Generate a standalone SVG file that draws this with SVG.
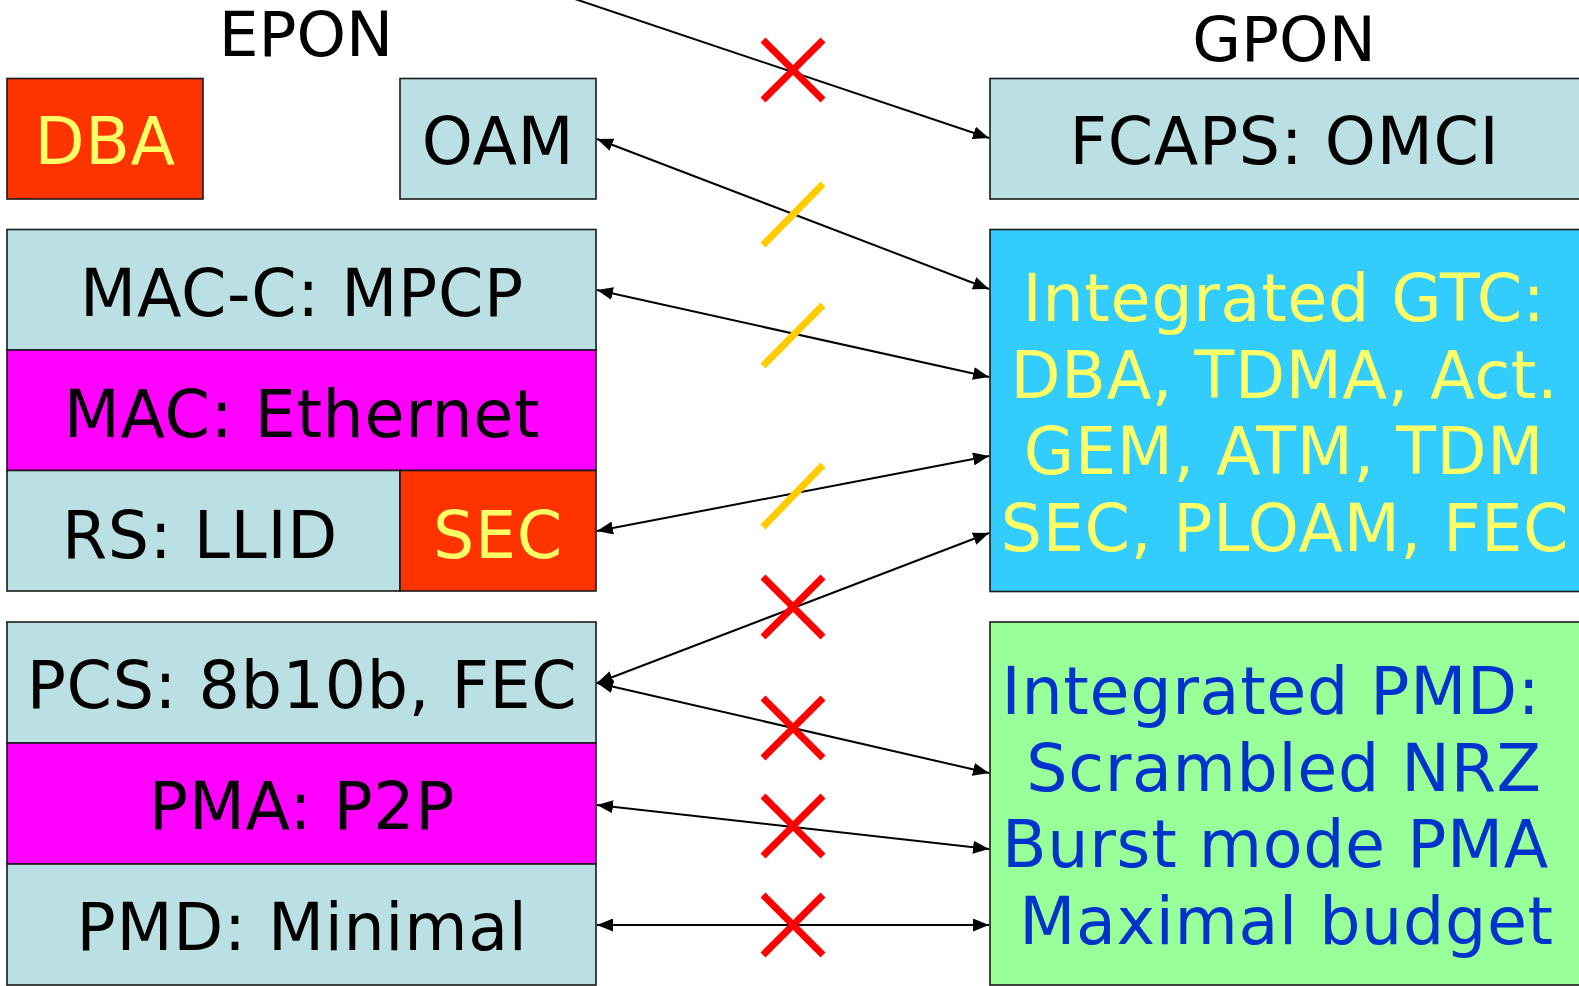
<svg xmlns="http://www.w3.org/2000/svg" width="1579" height="986" viewBox="0 0 1579 986">
<defs>
<style>
.box{stroke:#1a1a1a;stroke-width:1.6}
.lb{fill:#BBE0E3}
.or{fill:#FF3300}
.mg{fill:#FF00FF}
.cy{fill:#33CCFF}
.gr{fill:#99FF99}
text{font-family:"DejaVu Sans","Verdana",sans-serif;font-size:65px;letter-spacing:0.7px;text-anchor:middle}
.t{font-size:63px;letter-spacing:0}
.k{fill:#000}
.y{fill:#FFFF66}
.b{fill:#0033CC}
.con{stroke:#000;stroke-width:2;fill:none}
.arr1{marker-end:url(#ah)}
.arr2{marker-start:url(#ah);marker-end:url(#ah)}
.x{stroke:#FF0000;stroke-width:7;fill:none}
.s{stroke:#FFCC00;stroke-width:7;fill:none}
</style>
<marker id="ah" markerUnits="userSpaceOnUse" markerWidth="17" markerHeight="13" refX="16" refY="6.5" orient="auto-start-reverse">
<path d="M0,0 L16,6.5 L0,13 z" fill="#000"/>
</marker>
</defs>
<rect width="1579" height="986" fill="#fff"/>
<g id="titles">
<text class="k t" x="306" y="56">EPON</text>
<text class="k t" x="1284" y="61">GPON</text>
</g>
<g id="dba"><rect class="box or" x="7" y="78.5" width="196" height="120.5"/><text class="y" x="105" y="164">DBA</text></g>
<g id="oam"><rect class="box lb" x="400" y="78.5" width="196" height="120.5"/><text class="k" x="498" y="164">OAM</text></g>
<g id="macc"><rect class="box lb" x="7" y="229.5" width="589" height="120.5"/><text class="k" x="302" y="316">MAC-C: MPCP</text></g>
<g id="mac"><rect class="box mg" x="7" y="350" width="589" height="120.5"/><text class="k" x="302" y="437">MAC: Ethernet</text></g>
<g id="rs"><rect class="box lb" x="7" y="470.5" width="393" height="120.5"/><text class="k" x="200" y="558">RS: LLID</text></g>
<g id="sec"><rect class="box or" x="400" y="470.5" width="196" height="120.5"/><text class="y" x="498" y="558">SEC</text></g>
<g id="pcs"><rect class="box lb" x="7" y="622" width="589" height="121"/><text class="k" x="302" y="708">PCS: 8b10b, FEC</text></g>
<g id="pma"><rect class="box mg" x="7" y="743" width="589" height="121"/><text class="k" x="302" y="829">PMA: P2P</text></g>
<g id="pmd"><rect class="box lb" x="7" y="864" width="589" height="121"/><text class="k" x="302" y="950">PMD: Minimal</text></g>
<g id="fcaps"><rect class="box lb" x="990" y="78.5" width="590" height="120.5"/><text class="k" x="1284.5" y="164">FCAPS: OMCI</text></g>
<g id="gtc"><rect class="box cy" x="990" y="229.5" width="590" height="362"/>
<text class="y" x="1284" y="321">Integrated GTC:</text>
<text class="y" x="1284.5" y="397.5">DBA, TDMA, Act.</text>
<text class="y" x="1284" y="474">GEM, ATM, TDM</text>
<text class="y" x="1285" y="551">SEC, PLOAM, FEC</text>
</g>
<g id="ipmd"><rect class="box gr" x="990" y="622" width="590" height="363"/>
<text class="b" x="1271" y="714">Integrated PMD:</text>
<text class="b" x="1284" y="791">Scrambled NRZ</text>
<text class="b" x="1275.5" y="867">Burst mode PMA</text>
<text class="b" x="1286.5" y="944">Maximal budget</text>
</g>
<g id="connectors">
<line class="con arr1" x1="560" y1="-6" x2="989" y2="138"/>
<line class="con arr2" x1="597" y1="139" x2="989" y2="289"/>
<line class="con arr2" x1="597" y1="290" x2="989" y2="377"/>
<line class="con arr2" x1="597" y1="531" x2="989" y2="456"/>
<line class="con arr2" x1="597" y1="683" x2="989" y2="533"/>
<line class="con arr2" x1="597" y1="683" x2="989" y2="773"/>
<line class="con arr2" x1="597" y1="805" x2="989" y2="849"/>
<line class="con arr2" x1="597" y1="925" x2="989" y2="925"/>
</g>
<g id="marks">
<path class="x" d="M763,40 L823,100 M823,40 L763,100"/>
<path class="x" d="M763,577 L823,637 M823,577 L763,637"/>
<path class="x" d="M763,698 L823,758 M823,698 L763,758"/>
<path class="x" d="M763,796 L823,856 M823,796 L763,856"/>
<path class="x" d="M763,895 L823,955 M823,895 L763,955"/>
<path class="s" d="M763,245 L823,184"/>
<path class="s" d="M763,366 L823,305"/>
<path class="s" d="M763,527 L823,465"/>
</g>
</svg>
